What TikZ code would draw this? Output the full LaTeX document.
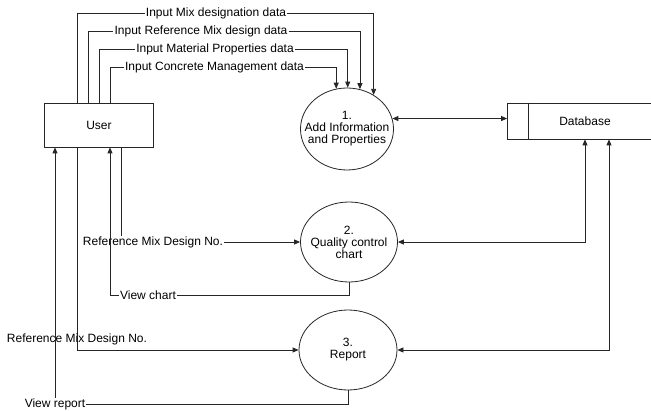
\documentclass[tikz,border=0pt]{standalone}
\usepackage{fontspec}
\setmainfont{Liberation Sans}
\usepackage{tikz}
\usetikzlibrary{arrows.meta}
\usetikzlibrary{shapes.geometric}
\tikzset{line/.style = {draw = black!85, line width = 0.8pt}}
\tikzset{flow/.style = {line, -{Triangle[length = 6pt, width = 5pt]}}}
\tikzset{biflow/.style = {line, {Triangle[length = 6pt, width = 5pt]}-{Triangle[length = 6pt, width = 5pt]}}}
\tikzset{proc/.style = {draw = black!85, line width = 0.8pt, ellipse, fill = white, inner sep = 0}}
\tikzset{ent/.style = {draw = black!85, line width = 0.8pt, rectangle, fill = white}}
\tikzset{lbl/.style = {fill = white, inner xsep = 1pt, inner ysep = 0.5pt}}
\tikzset{txt/.style = {align = center}}

\begin{document}
\begin{tikzpicture}[x = 1pt, y = -1pt, every node/.style = {font = \fontsize{12}{12}\selectfont}]
        \useasboundingbox [fill = white] (0, 0) rectangle (651, 411);

        \node [ent, minimum width = 109pt, minimum height = 44pt] (user) at (99, 125) {User};
        \node [proc, minimum width = 93pt, minimum height = 82pt,
               label = {[txt]center:{1.\\Add Information\\and Properties}}] (add) at (347, 129) {};
        \node [proc, minimum width = 97pt, minimum height = 80pt,
               label = {[txt]center:{2.\\Quality control\\chart}}] (qc) at (349, 242) {};
        \node [proc, minimum width = 98pt, minimum height = 80pt,
               label = {[txt]center:{3.\\Report}}] (rep) at (348, 350) {};
        \node [ent, minimum width = 155pt, minimum height = 36pt] (db) at (585, 121) {Database};
        \draw [line] ([xshift = 21.6pt]db.north west) -- ([xshift = 21.6pt]db.south west);

        \node [lbl] (mixdes) at (216, 13.3) {Input Mix designation data};
        \node [lbl] (refmix) at (201, 31.5) {Input Reference Mix design data};
        \node [lbl] (matprop) at (215, 49.3) {Input Material Properties data};
        \node [lbl] (concman) at (214.5, 67) {Input Concrete Management data};
        \node [lbl] (refqc) at (153, 242) {Reference Mix Design No.};
        \node [lbl] (viewchart) at (148, 295.7) {View chart};
        \node [lbl] (viewrep) at (55, 404.5) {View report};

        \draw [flow] ([xshift = -22pt]user.north) |- (mixdes) -| (add.52);
        \draw [flow] ([xshift = -11pt]user.north) |- (refmix) -| (add.72);
        \draw [flow] (user.north) |- (matprop) -| (add.89);
        \draw [flow] ([xshift = 11pt]user.north) |- (concman) -| (add.105);

        \draw [biflow] (add.13) -- (add.13 -| db.west);
        \draw [biflow] (qc.east) -| (db.south);
        \draw [biflow] (rep.east) -| ([xshift = 24pt]db.south);

        \draw [line] ([xshift = 22pt]user.south) -- ([xshift = 22pt]user.south |- refqc.north);
        \draw [flow] (refqc) -- (qc.west);
        \draw [flow] (qc.south) |- (viewchart) -| ([xshift = 11pt]user.south);
        \draw [flow] ([xshift = -22pt]user.south) |- (rep.west)
              node [pos = 0.5, above = 1pt] (refrep) {Reference Mix Design No.};
        \draw [flow] (rep.south) |- (viewrep) -- ([xshift = -44pt]user.south);
      \end{tikzpicture}
\end{document}
